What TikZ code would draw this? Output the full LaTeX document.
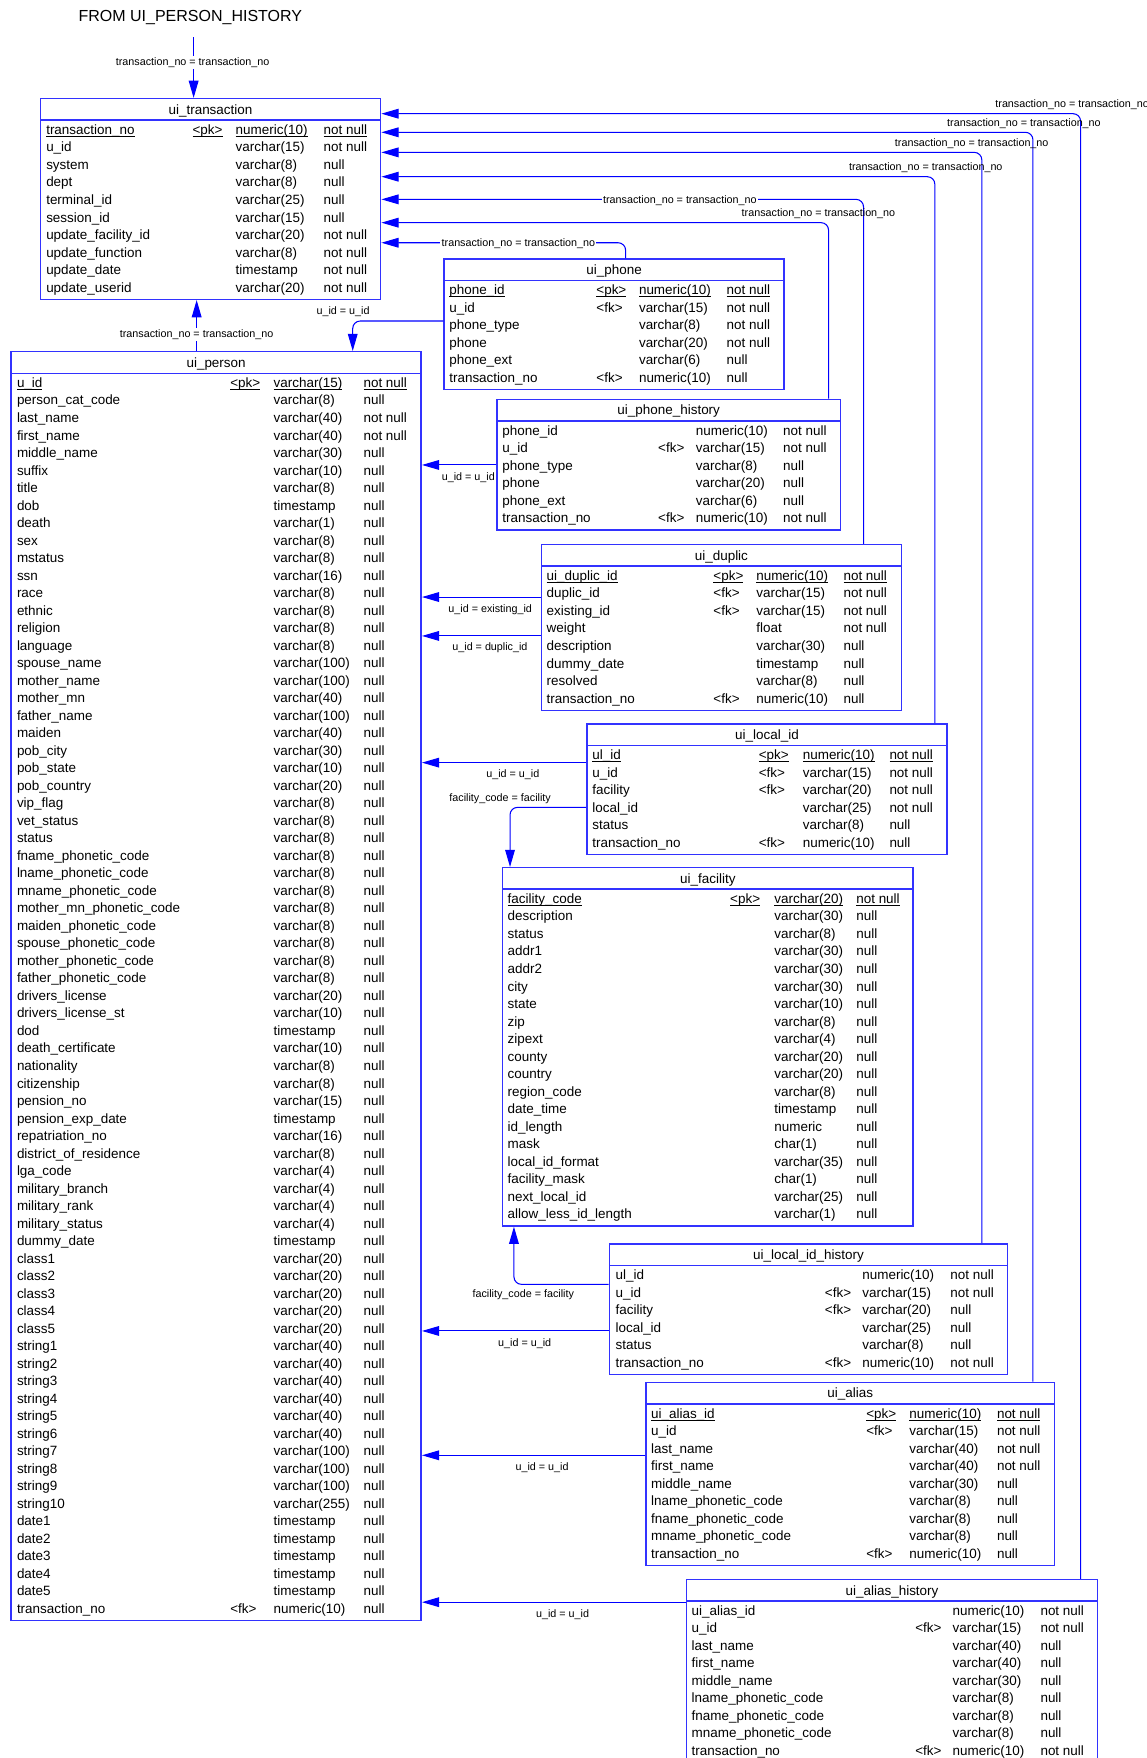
\documentclass[tikz,border=0pt]{standalone}
\usepackage{fontspec}
\setmainfont{Liberation Sans}
\usetikzlibrary{arrows.meta,fit}
\definecolor{boxblue}{RGB}{50,50,255}
\newcommand\ulx[1]{\setbox0=\hbox{#1}\rlap{\rule[-1.7pt]{\wd0}{0.55pt}}\box0}
\newcommand\dbtable[6]{%
  \pgfmathsetmacro\ybot{#3+27.5+(#5-1)*15.62+10.9}%
  \node[tbox, fit={(#2,#3) (#4,\ybot)}] (#1) {};%
  \draw[tline] (#2,#3+19.2) -- (#4,#3+19.2);%
  \node[ttitle] (#1-title) at ({(#2+#4)/2},#3+13.9) {#6};%
}
\newcommand\trows[7]{%
  \foreach \fa/\fb/\fc/\fd [count=\ri] in {#7}{%
    \pgfmathsetmacro\yy{#2+27.5+(\ri-1)*15.62+4.4}%
    \node[cell] (#1-a\ri) at (#3,\yy) {\fa};%
    \node[cell] (#1-b\ri) at (#4,\yy) {\fb};%
    \node[cell] (#1-c\ri) at (#5,\yy) {\fc};%
    \node[cell] (#1-d\ri) at (#6,\yy) {\fd};%
  }%
}
\begin{document}
\begin{tikzpicture}[x=0.75pt,y=-0.75pt,
  tbox/.style={draw=boxblue,line width=1pt,inner sep=0pt},
  tline/.style={draw=boxblue,line width=1pt},
  ttitle/.style={anchor=base,inner sep=0pt,font=\fontsize{9}{11}\selectfont},
  cell/.style={anchor=base west,inner sep=0pt,font=\fontsize{9}{11}\selectfont},
  conn/.style={draw=blue,line width=0.7pt,rounded corners=5pt,-{Triangle[length=11.5pt,width=6.5pt]}},
  lbl/.style={anchor=base,inner sep=0.8pt,font=\fontsize{7.2}{8}\selectfont},
  lblw/.style={lbl,fill=white}]
\useasboundingbox (0,0) rectangle (1023,1568);
\clip (0,0) rectangle (1023,1568);

\node[anchor=base west,inner sep=0pt,font=\fontsize{10.7}{13}\selectfont] (heading) at (69.9,19.1) {FROM UI\_PERSON\_HISTORY};

% ---------- tables ----------
\dbtable{trans}{36}{88}{339.5}{10}{ui\_transaction}
\trows{trans}{88}{41}{171.5}{210}{288.4}{
 \ulx{transaction\_no}/\ulx{<pk>}/\ulx{numeric(10)}/\ulx{not null},
 u\_id//varchar(15)/not null,
 system//varchar(8)/null,
 dept//varchar(8)/null,
 terminal\_id//varchar(25)/null,
 session\_id//varchar(15)/null,
 update\_facility\_id//varchar(20)/not null,
 update\_function//varchar(8)/not null,
 update\_date//timestamp/not null,
 update\_userid//varchar(20)/not null}

\dbtable{person}{9.8}{313.7}{375.7}{71}{ui\_person}
\trows{person}{313.7}{14.9}{205.1}{243.8}{324}{
 \ulx{u\_id}/\ulx{<pk>}/\ulx{varchar(15)}/\ulx{not null},
 person\_cat\_code//varchar(8)/null,
 last\_name//varchar(40)/not null,
 first\_name//varchar(40)/not null,
 middle\_name//varchar(30)/null,
 suffix//varchar(10)/null,
 title//varchar(8)/null,
 dob//timestamp/null,
 death//varchar(1)/null,
 sex//varchar(8)/null,
 mstatus//varchar(8)/null,
 ssn//varchar(16)/null,
 race//varchar(8)/null,
 ethnic//varchar(8)/null,
 religion//varchar(8)/null,
 language//varchar(8)/null,
 spouse\_name//varchar(100)/null,
 mother\_name//varchar(100)/null,
 mother\_mn//varchar(40)/null,
 father\_name//varchar(100)/null,
 maiden//varchar(40)/null,
 pob\_city//varchar(30)/null,
 pob\_state//varchar(10)/null,
 pob\_country//varchar(20)/null,
 vip\_flag//varchar(8)/null,
 vet\_status//varchar(8)/null,
 status//varchar(8)/null,
 fname\_phonetic\_code//varchar(8)/null,
 lname\_phonetic\_code//varchar(8)/null,
 mname\_phonetic\_code//varchar(8)/null,
 mother\_mn\_phonetic\_code//varchar(8)/null,
 maiden\_phonetic\_code//varchar(8)/null,
 spouse\_phonetic\_code//varchar(8)/null,
 mother\_phonetic\_code//varchar(8)/null,
 father\_phonetic\_code//varchar(8)/null,
 drivers\_license//varchar(20)/null,
 drivers\_license\_st//varchar(10)/null,
 dod//timestamp/null,
 death\_certificate//varchar(10)/null,
 nationality//varchar(8)/null,
 citizenship//varchar(8)/null,
 pension\_no//varchar(15)/null,
 pension\_exp\_date//timestamp/null,
 repatriation\_no//varchar(16)/null,
 district\_of\_residence//varchar(8)/null,
 lga\_code//varchar(4)/null,
 military\_branch//varchar(4)/null,
 military\_rank//varchar(4)/null,
 military\_status//varchar(4)/null,
 dummy\_date//timestamp/null,
 class1//varchar(20)/null,
 class2//varchar(20)/null,
 class3//varchar(20)/null,
 class4//varchar(20)/null,
 class5//varchar(20)/null,
 string1//varchar(40)/null,
 string2//varchar(40)/null,
 string3//varchar(40)/null,
 string4//varchar(40)/null,
 string5//varchar(40)/null,
 string6//varchar(40)/null,
 string7//varchar(100)/null,
 string8//varchar(100)/null,
 string9//varchar(100)/null,
 string10//varchar(255)/null,
 date1//timestamp/null,
 date2//timestamp/null,
 date3//timestamp/null,
 date4//timestamp/null,
 date5//timestamp/null,
 transaction\_no/<fk>/numeric(10)/null}

\dbtable{phone}{396.1}{231}{699.3}{6}{ui\_phone}
\trows{phone}{231}{400.5}{531.7}{569.7}{647.9}{
 \ulx{phone\_id}/\ulx{<pk>}/\ulx{numeric(10)}/\ulx{not null},
 u\_id/<fk>/varchar(15)/not null,
 phone\_type//varchar(8)/not null,
 phone//varchar(20)/not null,
 phone\_ext//varchar(6)/null,
 transaction\_no/<fk>/numeric(10)/null}

\dbtable{phoneh}{443.1}{356.2}{749.8}{6}{ui\_phone\_history}
\trows{phoneh}{356.2}{447.9}{586.8}{620.5}{698.3}{
 phone\_id//numeric(10)/not null,
 u\_id/<fk>/varchar(15)/not null,
 phone\_type//varchar(8)/null,
 phone//varchar(20)/null,
 phone\_ext//varchar(6)/null,
 transaction\_no/<fk>/numeric(10)/not null}

\dbtable{duplic}{482.9}{485.8}{804}{8}{ui\_duplic}
\trows{duplic}{485.8}{487.3}{636.1}{674.3}{752.1}{
 \ulx{ui\_duplic\_id}/\ulx{<pk>}/\ulx{numeric(10)}/\ulx{not null},
 duplic\_id/<fk>/varchar(15)/not null,
 existing\_id/<fk>/varchar(15)/not null,
 weight//float/not null,
 description//varchar(30)/null,
 dummy\_date//timestamp/null,
 resolved//varchar(8)/null,
 transaction\_no/<fk>/numeric(10)/null}

\dbtable{localid}{523.4}{645.7}{844.8}{6}{ui\_local\_id}
\trows{localid}{645.7}{528.1}{676.6}{715.8}{793.1}{
 \ulx{ul\_id}/\ulx{<pk>}/\ulx{numeric(10)}/\ulx{not null},
 u\_id/<fk>/varchar(15)/not null,
 facility/<fk>/varchar(20)/not null,
 local\_id//varchar(25)/not null,
 status//varchar(8)/null,
 transaction\_no/<fk>/numeric(10)/null}

\dbtable{fac}{448.2}{773.9}{814.5}{19}{ui\_facility}
\trows{fac}{773.9}{452.6}{651}{690.4}{763.5}{
 \ulx{facility\_code}/\ulx{<pk>}/\ulx{varchar(20)}/\ulx{not null},
 description//varchar(30)/null,
 status//varchar(8)/null,
 addr1//varchar(30)/null,
 addr2//varchar(30)/null,
 city//varchar(30)/null,
 state//varchar(10)/null,
 zip//varchar(8)/null,
 zipext//varchar(4)/null,
 county//varchar(20)/null,
 country//varchar(20)/null,
 region\_code//varchar(8)/null,
 date\_time//timestamp/null,
 id\_length//numeric/null,
 mask//char(1)/null,
 local\_id\_format//varchar(35)/null,
 facility\_mask//char(1)/null,
 next\_local\_id//varchar(25)/null,
 allow\_less\_id\_length//varchar(1)/null}

\dbtable{lidh}{543.6}{1109.5}{898.6}{6}{ui\_local\_id\_history}
\trows{lidh}{1109.5}{548.8}{735.5}{768.9}{847.4}{
 ul\_id//numeric(10)/not null,
 u\_id/<fk>/varchar(15)/not null,
 facility/<fk>/varchar(20)/null,
 local\_id//varchar(25)/null,
 status//varchar(8)/null,
 transaction\_no/<fk>/numeric(10)/not null}

\dbtable{alias}{576.1}{1232.9}{940.5}{9}{ui\_alias}
\trows{alias}{1232.9}{580.5}{772.4}{810.9}{889}{
 \ulx{ui\_alias\_id}/\ulx{<pk>}/\ulx{numeric(10)}/\ulx{not null},
 u\_id/<fk>/varchar(15)/not null,
 last\_name//varchar(40)/not null,
 first\_name//varchar(40)/not null,
 middle\_name//varchar(30)/null,
 lname\_phonetic\_code//varchar(8)/null,
 fname\_phonetic\_code//varchar(8)/null,
 mname\_phonetic\_code//varchar(8)/null,
 transaction\_no/<fk>/numeric(10)/null}

\dbtable{ahist}{612.3}{1408.9}{979}{9}{ui\_alias\_history}
\trows{ahist}{1408.9}{616.7}{816.1}{849.4}{927.8}{
 ui\_alias\_id//numeric(10)/not null,
 u\_id/<fk>/varchar(15)/not null,
 last\_name//varchar(40)/null,
 first\_name//varchar(40)/null,
 middle\_name//varchar(30)/null,
 lname\_phonetic\_code//varchar(8)/null,
 fname\_phonetic\_code//varchar(8)/null,
 mname\_phonetic\_code//varchar(8)/null,
 transaction\_no/<fk>/numeric(10)/not null}

% ---------- connectors ----------
\coordinate (src) at (172.7,33.3);
\draw[conn] (src) -- (trans.north -| src);
\draw[conn] (person.north -| 175.4,0) -- (trans.south -| 175.4,0);
\draw[conn] (phone.west |- 0,286.3) -| (person.north -| 314.6,0);

\draw[conn] (ahist.north -| 963.8,0) |- (trans.east |- 0,101.4);
\draw[conn] (alias.north -| 921.3,0) |- (trans.east |- 0,118);
\draw[conn] (lidh.north -| 875.7,0) |- (trans.east |- 0,135.9);
\draw[conn] (localid.north -| 833.8,0) |- (trans.east |- 0,157.6);
\draw[conn] (duplic.north -| 770.2,0) |- (trans.east |- 0,177.8);
\draw[conn] (phoneh.north -| 739,0) |- (trans.east |- 0,198.6);
\draw[conn] (phone.north -| 558,0) |- (trans.east |- 0,216.5);

\draw[conn] (phoneh.west |- 0,414.7) -- (person.east |- 0,414.7);
\draw[conn] (duplic.west |- 0,532.5) -- (person.east |- 0,532.5);
\draw[conn] (duplic.west |- 0,567.2) -- (person.east |- 0,567.2);
\draw[conn] (localid.west |- 0,680.2) -- (person.east |- 0,680.2);
\draw[conn] (lidh.west |- 0,1187.1) -- (person.east |- 0,1187.1);
\draw[conn] (alias.west |- 0,1298) -- (person.east |- 0,1298);
\draw[conn] (ahist.west |- 0,1429) -- (person.east |- 0,1429);

\draw[conn] (localid.west |- 0,720.1) -| (fac.north -| 454.9,0);
\draw[conn] (lidh.west |- 0,1145.5) -| (fac.south -| 458.4,0);

% ---------- labels ----------
\node[lblw] (lb1) at (171.8,58.2) {transaction\_no = transaction\_no};
\node[lblw] (lb2) at (175.4,300.8) {transaction\_no = transaction\_no};
\node[lbl] (lb3) at (306,280.9) {u\_id = u\_id};
\node[lbl,anchor=base west] (lb4) at (886.5,95.7) {transaction\_no = transaction\_no};
\node[lbl] (lb5) at (913.3,112.6) {transaction\_no = transaction\_no};
\node[lbl] (lb6) at (866.7,130.4) {transaction\_no = transaction\_no};
\node[lbl] (lb7) at (825.7,151.9) {transaction\_no = transaction\_no};
\node[lblw] (lb8) at (606.4,181.3) {transaction\_no = transaction\_no};
\node[lbl] (lb9) at (730,192.9) {transaction\_no = transaction\_no};
\node[lblw] (lb10) at (462.4,220) {transaction\_no = transaction\_no};
\node[lbl] (lb11) at (417.7,428.3) {u\_id = u\_id};
\node[lbl] (lb12) at (437.2,546.4) {u\_id = existing\_id};
\node[lbl] (lb13) at (437,580.5) {u\_id = duplic\_id};
\node[lbl] (lb14) at (457.4,693.8) {u\_id = u\_id};
\node[lbl] (lb15) at (446.1,714.9) {facility\_code = facility};
\node[lbl] (lb16) at (466.7,1157.3) {facility\_code = facility};
\node[lbl] (lb17) at (468,1201) {u\_id = u\_id};
\node[lbl] (lb18) at (483.5,1311.5) {u\_id = u\_id};
\node[lbl] (lb19) at (501.8,1442.5) {u\_id = u\_id};
\end{tikzpicture}
\end{document}
